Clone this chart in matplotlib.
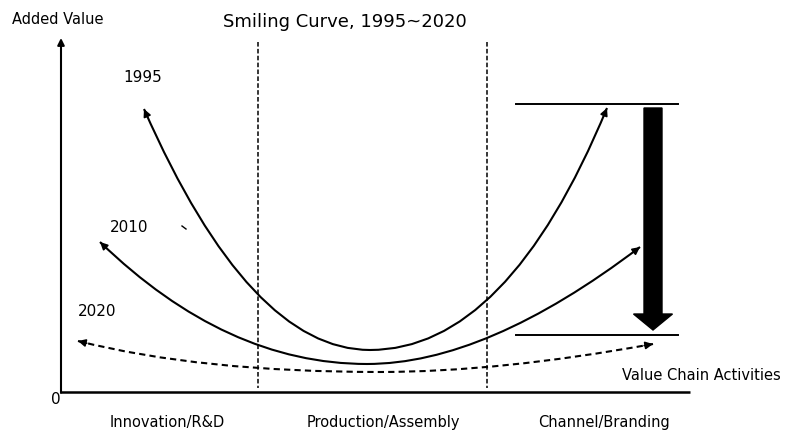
import numpy as np
import matplotlib.pyplot as plt
from matplotlib.path import Path
from matplotlib.patches import PathPatch, FancyArrow

# canvas units are pixels of the 792x432 picture, y grows downwards
years = ['1995', '2010', '2020']
# left arrow tip, bottom of the smile, right arrow tip
start_x = [144, 100, 78]
start_y = [109, 242, 341]
low_x = [370, 367, 380]
low_y = [350, 364, 372]
end_x = [607, 640, 653]
end_y = [108, 247, 344]
# control points of the two quadratic halves (at the height of the bottom)
left_cx = [250, 226, 200]
right_cx = [507, 486, 499]
line_styles = ['-', '-', (0, (3, 2))]
label_x = [123, 110, 78]
label_y = [77, 227, 311]

stages = ['Innovation/R&D', 'Production/Assembly', 'Channel/Branding']
stage_x = [167, 383, 604]
divider_x = [258, 487]
level_y = [104, 335]

fig = plt.figure(figsize=(7.92, 4.32), dpi=100)
ax = fig.add_axes([0, 0, 1, 1])
ax.set_xlim(0, 792)
ax.set_ylim(432, 0)
ax.axis('off')

# axes of the diagram
ax.plot([61, 690], [392, 392], color='black', lw=1.8, solid_capstyle='butt')
ax.annotate('', xy=(61, 38), xytext=(61, 393),
            arrowprops=dict(arrowstyle='-|>', color='black', lw=1.5,
                            shrinkA=0, shrinkB=0, mutation_scale=10))
ax.text(56, 399, '0', fontsize=11, ha='center', va='center')
ax.text(12, 20, 'Added Value', fontsize=10.5, ha='left', va='center')
ax.text(345, 22, 'Smiling Curve, 1995~2020', fontsize=13, ha='center', va='center')
ax.text(622, 375, 'Value Chain Activities', fontsize=10.5, ha='left', va='center')

# stage dividers and labels
for x in divider_x:
    ax.plot([x, x], [42, 388], color='black', lw=1.1, dashes=(3, 1.5))
for name, x in zip(stages, stage_x):
    ax.text(x, 422, name, fontsize=10.5, ha='center', va='center')

# the three smiling curves
for i in range(len(years)):
    verts = [(start_x[i], start_y[i]), (left_cx[i], low_y[i]), (low_x[i], low_y[i]),
             (right_cx[i], low_y[i]), (end_x[i], end_y[i])]
    codes = [Path.MOVETO, Path.CURVE3, Path.CURVE3, Path.CURVE3, Path.CURVE3]
    patch = PathPatch(Path(verts, codes), fill=False, color='black', lw=1.5,
                      linestyle=line_styles[i])
    ax.add_patch(patch)
    # arrow heads at both ends, along the tangent
    for tip, ctrl in [((start_x[i], start_y[i]), (left_cx[i], low_y[i])),
                      ((end_x[i], end_y[i]), (right_cx[i], low_y[i]))]:
        d = np.array(tip, float) - np.array(ctrl, float)
        d /= np.hypot(*d)
        back = np.array(tip) - 9 * d
        ax.annotate('', xy=tip, xytext=tuple(back),
                    arrowprops=dict(arrowstyle='-|>', color='black', lw=1.2,
                                    shrinkA=0, shrinkB=0, mutation_scale=11))
    ax.text(label_x[i], label_y[i], years[i], fontsize=11, ha='left', va='center')

# stray mark in the original
ax.plot([182, 186], [226, 229], color='black', lw=1)

# levels and the big downward arrow
for y in level_y:
    ax.plot([516, 678], [y, y], color='black', lw=1.4)
ax.add_patch(FancyArrow(653, 108, 0, 222, width=18, head_width=39, head_length=16,
                        length_includes_head=True, color='black'))

fig.savefig('out.png', dpi=100)
